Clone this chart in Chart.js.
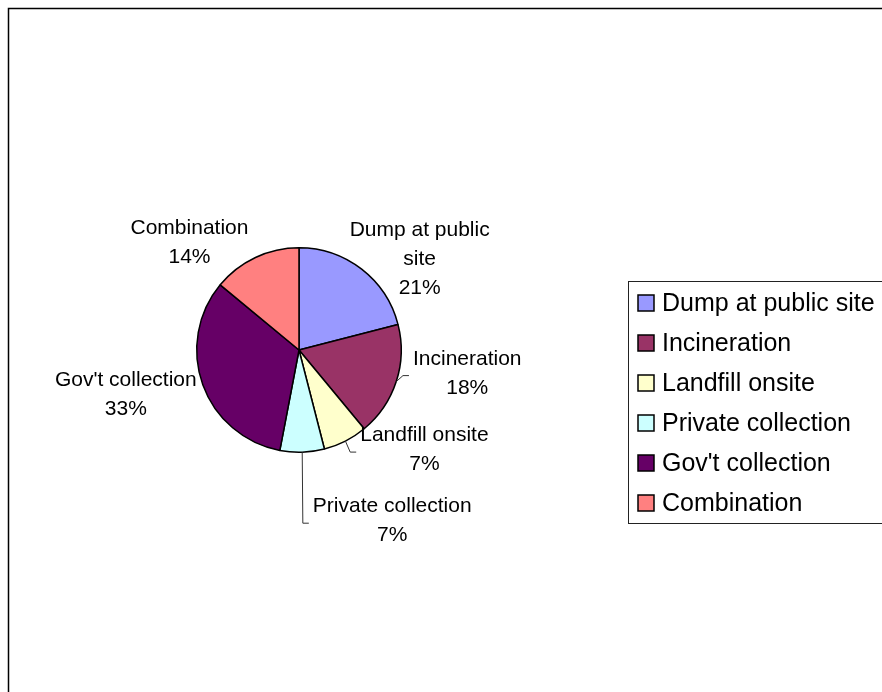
<!DOCTYPE html>
<html lang="en">
<head>
  <meta charset="UTF-8">
  <title>Waste disposal</title>
  <script src="https://cdn.jsdelivr.net/npm/chart.js"></script>
  <style>
    body { margin: 0; background: #fff; }
    canvas { display: block; }
  </style>
</head>
<body>
  <canvas id="pieChart" width="882" height="692"></canvas>
<script>
  // data
  const categories = ['Dump at public site', 'Incineration', 'Landfill onsite', 'Private collection', "Gov't collection", 'Combination'];
  const shares = [21, 18, 7, 7, 33, 14];
  const sliceColors = ['#9999FF', '#993366', '#FFFFCC', '#CCFFFF', '#660066', '#FF8080'];
  // how the slice labels are broken into lines
  const labelLines = [['Dump at public', 'site'], ['Incineration'], ['Landfill onsite'], ['Private collection'], ["Gov't collection"], ['Combination']];

  // label placement, relative to the outer middle of each slice
  const labelShift = [[58, -10], [71, -8], [79, 9], [90, 69], [-77, 10], [-66, -15]];
  const hasLeader = [false, true, true, true, false, false];

  const labelFont = '21px "Liberation Sans", Arial, sans-serif';
  const legendFont = '25px "Liberation Sans", Arial, sans-serif';

  const decorations = {
    id: 'decorations',
    afterDraw(chart) {
      const ctx = chart.ctx;
      const meta = chart.getDatasetMeta(0);
      const values = chart.data.datasets[0].data;
      const total = values.reduce((a, b) => a + b, 0);

      ctx.save();
      // outer frame
      ctx.strokeStyle = '#000';
      ctx.lineWidth = 1.5;
      ctx.strokeRect(8.5, 8.5, 2000, 2000);

      // slice labels
      ctx.font = labelFont;
      ctx.fillStyle = '#000';
      ctx.textAlign = 'center';
      ctx.textBaseline = 'middle';
      meta.data.forEach((arc, i) => {
        const p = arc.getProps(['x', 'y', 'startAngle', 'endAngle', 'outerRadius'], true);
        const mid = (p.startAngle + p.endAngle) / 2;
        const ex = p.x + Math.cos(mid) * p.outerRadius;
        const ey = p.y + Math.sin(mid) * p.outerRadius;
        const cx = ex + labelShift[i][0];
        const cy = ey + labelShift[i][1];
        const lines = labelLines[i].concat([Math.round(values[i] / total * 100) + '%']);
        const lineH = 29;
        const top = cy - (lines.length - 1) * lineH / 2;
        let w = 0;
        lines.forEach((t, k) => {
          ctx.fillText(t, cx, top + k * lineH);
          w = Math.max(w, ctx.measureText(t).width);
        });
        if (hasLeader[i]) {
          const endX = cx - w / 2 - 4;
          const kneeX = endX - 6;
          const ly = cy + 2;
          ctx.beginPath();
          ctx.strokeStyle = '#333';
          ctx.lineWidth = 1;
          ctx.moveTo(ex, ey);
          ctx.lineTo(kneeX, ly);
          ctx.lineTo(endX, ly);
          ctx.stroke();
        }
      });

      // legend
      const boxX = 628, boxY = 281, rowH = 40;
      ctx.strokeStyle = '#222';
      ctx.lineWidth = 1;
      ctx.strokeRect(boxX + 0.5, boxY + 0.5, 600, rowH * categories.length + 2);
      ctx.font = legendFont;
      ctx.textAlign = 'left';
      chart.data.labels.forEach((name, i) => {
        const y = boxY + 22 + i * rowH;
        ctx.fillStyle = chart.data.datasets[0].backgroundColor[i];
        ctx.fillRect(boxX + 10, y - 8, 16, 16);
        ctx.strokeStyle = '#000';
        ctx.lineWidth = 1.5;
        ctx.strokeRect(boxX + 10, y - 8, 16, 16);
        ctx.fillStyle = '#000';
        ctx.fillText(name, boxX + 34, y + 1);
      });
      ctx.restore();
    }
  };

  const pieChart = new Chart(document.getElementById('pieChart'), {
    type: 'pie',
    data: {
      labels: categories,
      datasets: [{
        data: shares,
        backgroundColor: sliceColors,
        borderColor: '#000',
        borderWidth: 1.5
      }]
    },
    options: {
      responsive: false,
      animation: false,
      layout: { padding: { left: 196, right: 480, top: 247, bottom: 239 } },
      plugins: {
        legend: { display: false },
        tooltip: { enabled: false }
      }
    },
    plugins: [decorations]
  });
</script>
</body>
</html>
